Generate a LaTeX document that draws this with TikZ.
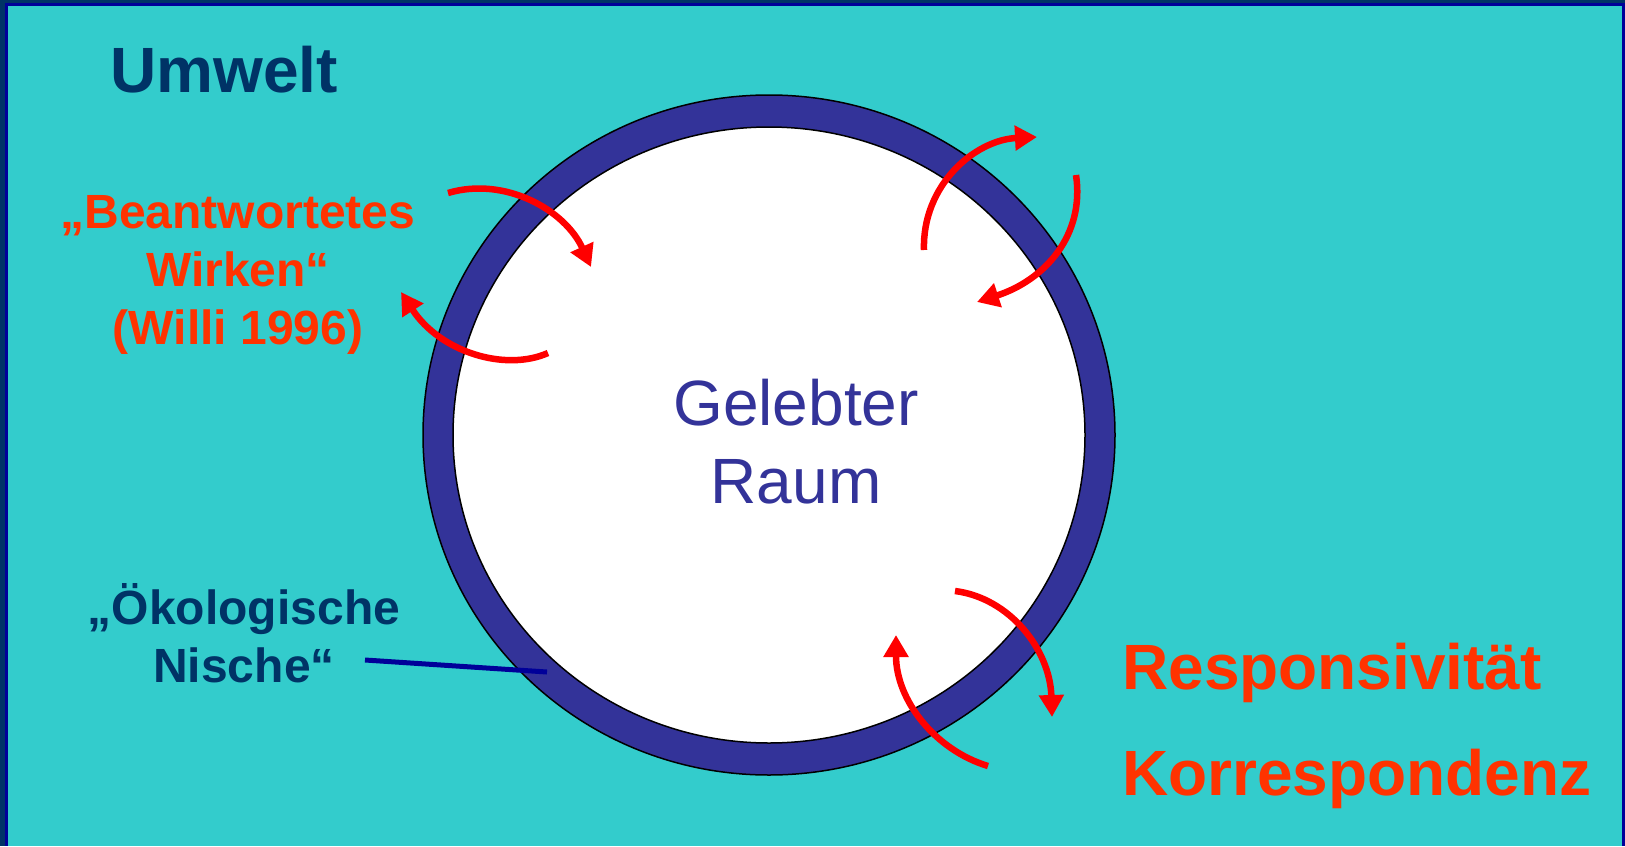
\documentclass[tikz,border=0pt]{standalone}
\usepackage{fontspec}
\setmainfont{Liberation Sans}
\usetikzlibrary{arrows.meta}
\definecolor{bgturq}{HTML}{33CCCC}
\definecolor{ringblue}{HTML}{333399}
\definecolor{darknavy}{HTML}{003366}
\definecolor{linenavy}{HTML}{000099}
\definecolor{textred}{HTML}{FF3300}
\definecolor{arrowred}{HTML}{FF0000}
\tikzset{
  redlbl/.style={inner sep=0pt, anchor=base, text=textred, font=\fontsize{48}{58}\selectfont\bfseries},
  navylbl/.style={inner sep=0pt, anchor=base, text=darknavy, font=\fontsize{48}{58}\selectfont\bfseries},
  biglbl/.style={inner sep=0pt, anchor=base west, text=textred, font=\fontsize{64}{76}\selectfont\bfseries},
  centerlbl/.style={inner sep=0pt, anchor=base, text=ringblue, font=\fontsize{64}{76}\selectfont},
  curvarrow/.style={draw=arrowred, line width=6.5pt, -{Triangle[length=22pt,width=24pt]}},
}
\begin{document}
\begin{tikzpicture}[x=1pt,y=-1pt]
\useasboundingbox (0,0) rectangle (1625,846);
% background and frame
\fill[bgturq] (0,0) rectangle (1625,846);
\fill[darknavy] (0,0) rectangle (5,846);
\fill[linenavy] (5,3) rectangle (8,846);
\fill[darknavy] (0,0) rectangle (1625,3);
\fill[linenavy] (5,3) rectangle (1625,6);
\fill[linenavy] (1622,3) rectangle (1625,846);
% ring
\coordinate (c) at (769,435);
\draw[fill=ringblue, draw=black, line width=1.5pt] (c) ellipse [x radius=346, y radius=340];
\draw[fill=white, draw=black, line width=1.5pt] (c) ellipse [x radius=316, y radius=308];
% texts
\node[inner sep=0pt, anchor=base west, text=darknavy, font=\fontsize{64}{76}\selectfont\bfseries] (umwelt) at (110,92) {Umwelt};
\node[redlbl] (b1) at (238,228) {„Beantwortetes};
\node[redlbl] (b2) at (238,286) {Wirken“};
\node[redlbl] (b3) at (238,344) {(Willi 1996)};
\node[navylbl] (n1) at (244,624) {„Ökologische};
\node[navylbl] (n2) at (244,682) {Nische“};
\node[centerlbl] (g1) at (796,425) {Gelebter};
\node[centerlbl] (g2) at (796,503) {Raum};
\node[biglbl] (r1) at (1122,689) {Responsivität};
\node[biglbl] (r2) at (1122,795) {Korrespondenz};
% niche pointer
\coordinate (nicheend) at (547,672);
\coordinate (nichestart) at (365,660);
\draw[linenavy, line width=5pt] (nichestart) -- (nicheend);
% arrows
\coordinate (a1s) at (448,193); \coordinate (a1e) at (591,267);
\coordinate (a2s) at (548,353); \coordinate (a2e) at (401,292);
\coordinate (a3s) at (924,250); \coordinate (a3e) at (1037,137);
\coordinate (a4s) at (1076,175); \coordinate (a4e) at (977,302);
\coordinate (a5s) at (955,591); \coordinate (a5e) at (1052,717);
\coordinate (a6s) at (988,766); \coordinate (a6e) at (896,635);
\draw[curvarrow] (a1s) .. controls (505,176) and (565,210) .. (a1e);
\draw[curvarrow] (a2s) .. controls (505,372) and (440,352) .. (a2e);
\draw[curvarrow] (a3s) .. controls (922,185) and (975,140) .. (a3e);
\draw[curvarrow] (a4s) .. controls (1085,235) and (1045,280) .. (a4e);
\draw[curvarrow] (a5s) .. controls (1010,598) and (1050,650) .. (a5e);
\draw[curvarrow] (a6s) .. controls (935,750) and (896,700) .. (a6e);
\end{tikzpicture}
\end{document}
